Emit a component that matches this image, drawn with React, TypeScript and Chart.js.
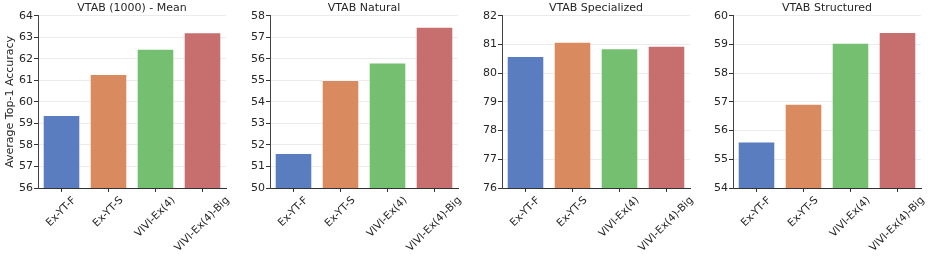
import React, { useEffect, useRef } from "react";
import { Chart, registerables } from "chart.js";

Chart.register(...registerables);

const categories = ["Ex-YT-F", "Ex-YT-S", "VIVI-Ex(4)", "VIVI-Ex(4)-Big"];
const meanValues = [59.39, 61.29, 62.46, 63.23];
const naturalValues = [51.62, 55.01, 55.83, 57.49];
const specializedValues = [80.6, 81.09, 80.87, 80.95];
const structuredValues = [55.62, 56.93, 59.06, 59.43];
const panelTitles = ["VTAB (1000) - Mean", "VTAB Natural", "VTAB Specialized", "VTAB Structured"];
const yMins = [56, 50, 76, 54];
const yMaxs = [64, 58, 82, 60];
const yAxisTitle = "Average Top-1 Accuracy";
const barColors = ["#597DBF", "#D98B5F", "#75BF71", "#C76E6E"];

const FONT = "'DejaVu Sans', sans-serif";
const TEXT = "#262626";
const XLABEL_SIZE = 10.5;

// Draws rotated x labels centred on their ticks (like matplotlib ha='center').
const centeredRotatedLabels = {
  id: "centeredRotatedLabels",
  afterDraw(chart: any) {
    const scale = chart.scales.x;
    const ctx = chart.ctx;
    const labels: string[] = chart.data.labels;
    ctx.save();
    ctx.font = `${XLABEL_SIZE}px ${FONT}`;
    ctx.fillStyle = TEXT;
    ctx.textAlign = "right";
    ctx.textBaseline = "top";
    const h = XLABEL_SIZE * 1.1;
    const y0 = scale.top + 4 + 3;
    labels.forEach((lab, i) => {
      const L = ctx.measureText(lab).width;
      const x = scale.getPixelForTick(i) + (L - h) / (2 * Math.SQRT2);
      ctx.save();
      ctx.translate(x, y0);
      ctx.rotate(-Math.PI / 4);
      ctx.fillText(lab, 0, 0);
      ctx.restore();
    });
    ctx.restore();
  },
};

type PanelProps = {
  title: string;
  values: number[];
  min: number;
  max: number;
  left: number;
  width: number;
  yWidth: number;
  rightPad: number;
  showYTitle: boolean;
};

function Panel({ title, values, min, max, left, width, yWidth, rightPad, showYTitle }: PanelProps) {
  const ref = useRef<HTMLCanvasElement | null>(null);
  useEffect(() => {
    if (!ref.current) return;
    const chart = new Chart(ref.current, {
      type: "bar",
      data: {
        labels: categories,
        datasets: [
          {
            data: values,
            backgroundColor: barColors,
            borderColor: "rgba(255,255,255,0.45)",
            borderWidth: 1,
            categoryPercentage: 0.8,
            barPercentage: 1,
          },
        ],
      },
      plugins: [centeredRotatedLabels],
      options: {
        responsive: false,
        animation: false,
        devicePixelRatio: 1,
        layout: { padding: { left: 0, right: rightPad, top: 0, bottom: 0 } },
        plugins: {
          legend: { display: false },
          tooltip: { enabled: false },
          title: {
            display: true,
            text: title,
            color: TEXT,
            fullSize: false,
            font: { family: FONT, size: 11, weight: "normal" },
            padding: { top: 2, bottom: 0.5 },
          },
        },
        scales: {
          x: {
            afterFit: (s: any) => {
              s.height = 71;
            },
            grid: {
              display: true,
              drawOnChartArea: false,
              offset: false,
              tickLength: 4,
              tickColor: "#333",
            },
            border: { display: true, color: "#333", width: 1 },
            ticks: {
              display: false,
              autoSkip: false,
            },
          },
          y: {
            min,
            max,
            afterFit: (s: any) => {
              s.width = yWidth;
            },
            grid: {
              color: "#ebebeb",
              lineWidth: 1,
              tickLength: 4,
              tickColor: "#333",
            },
            border: { display: true, color: "#444", width: 1 },
            ticks: {
              stepSize: 1,
              color: TEXT,
              font: { family: FONT, size: 11 },
              padding: 1,
            },
            title: {
              display: showYTitle,
              text: yAxisTitle,
              color: TEXT,
              font: { family: FONT, size: 11 },
              padding: { top: 4, bottom: 0 },
            },
          },
        },
      },
    });
    return () => chart.destroy();
  }, []);
  return (
    <canvas
      ref={ref}
      width={width}
      height={259}
      style={{ position: "absolute", left, top: 0, width, height: 259 }}
    />
  );
}

export default function App() {
  const allValues = [meanValues, naturalValues, specializedValues, structuredValues];
  const lefts = [0, 232, 464, 695];
  const widths = [232, 232, 231, 237];
  const rightPads = [6, 6, 5, 11];
  return (
    <div style={{ position: "absolute", left: 0, top: 0, width: 932, height: 259, background: "#fff" }}>
      {allValues.map((v, i) => (
        <Panel
          key={i}
          title={panelTitles[i]}
          values={v}
          min={yMins[i]}
          max={yMaxs[i]}
          left={lefts[i]}
          width={widths[i]}
          yWidth={38}
          rightPad={rightPads[i]}
          showYTitle={i === 0}
        />
      ))}
    </div>
  );
}
